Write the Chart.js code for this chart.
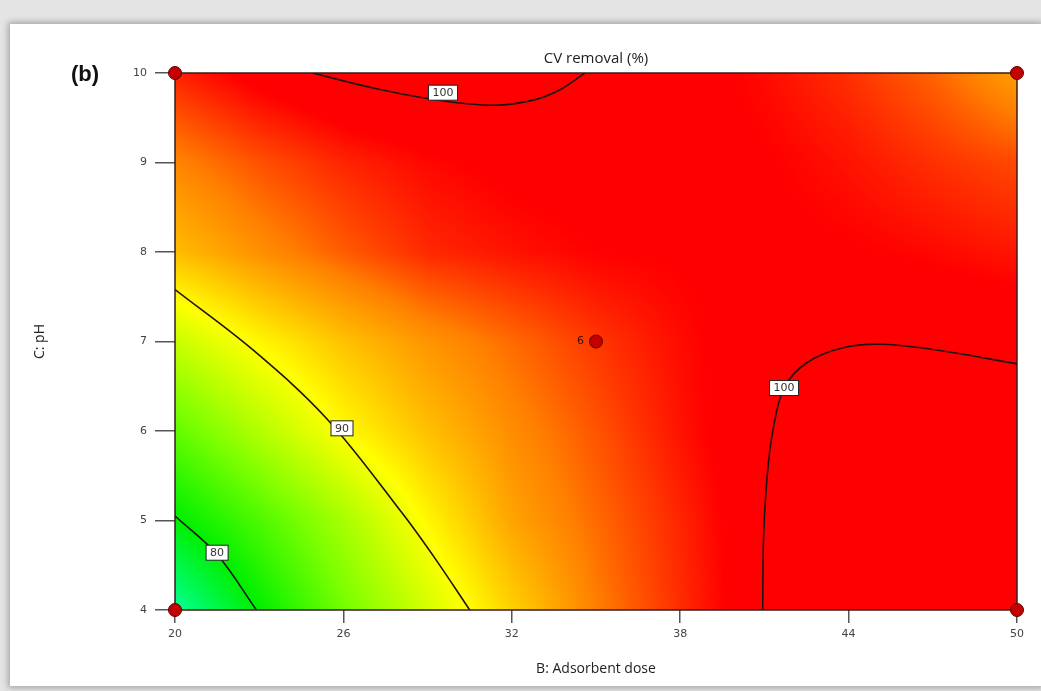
<!DOCTYPE html>
<html>
<head>
<meta charset="utf-8">
<script src="https://cdn.jsdelivr.net/npm/chart.js@4.4.1/dist/chart.umd.min.js"></script>
<style>
    body { margin: 0; background: #e4e4e4; width: 1041px; height: 691px; overflow: hidden; position: relative; }
    #card { position: absolute; left: 10px; top: 24px; width: 1031px; height: 662px; background: #fff;
            box-shadow: 0 0 6px 2px rgba(0,0,0,0.28); }
    #chart { position: absolute; left: 0; top: 0; }
</style>
</head>
<body>
<div id="card"></div>
<canvas id="chart" width="1041" height="691"></canvas>
<script>
// grid of the response surface
const doseGrid = [20, 23, 26, 29, 32, 35, 38, 41, 44, 47, 50];
const phGrid = [4, 5, 6, 7, 8, 9, 10];
const removalPH4  = [75.0, 80.0, 84.5, 88.3, 91.8, 95.0, 97.3, 99.5, 100.5, 101.0, 101.0];
const removalPH5  = [79.8, 83.0, 86.5, 90.3, 93.6, 95.6, 97.5, 99.5, 100.3, 100.5, 100.3];
const removalPH6  = [83.8, 87.0, 90.1, 92.5, 94.5, 96.2, 98.0, 99.5, 100.2, 100.3, 100.1];
const removalPH7  = [87.8, 90.3, 92.4, 94.2, 95.6, 97.0, 98.2, 99.2, 99.6, 99.6, 99.5];
const removalPH8  = [92.6, 94.4, 96.0, 97.4, 98.0, 98.5, 98.6, 98.7, 98.6, 98.3, 97.9];
const removalPH9  = [94.8, 96.3, 97.5, 98.3, 98.8, 99.0, 98.9, 98.6, 98.0, 97.2, 96.5];
const removalPH10 = [97.6, 99.0, 100.0, 100.5, 100.3, 99.8, 99.1, 98.2, 97.2, 95.8, 93.8];
const removalRows = [removalPH4, removalPH5, removalPH6, removalPH7, removalPH8, removalPH9, removalPH10];

// contour lines
const contour80 = [{x: 20, y: 5.05}, {x: 21.5, y: 4.62}, {x: 22.9, y: 4}];
const contour90 = [{x: 20, y: 7.58}, {x: 22.8, y: 6.9}, {x: 25.4, y: 6.14},
    {x: 28.1, y: 5.08}, {x: 29.3, y: 4.56}, {x: 30.5, y: 4}];
const contour100Top = [{x: 24.9, y: 10}, {x: 27.1, y: 9.83}, {x: 29.5, y: 9.69}, {x: 31.4, y: 9.64},
    {x: 32.8, y: 9.7}, {x: 33.7, y: 9.81}, {x: 34.6, y: 10}];
const contour100Right = [{x: 40.94, y: 4}, {x: 40.97, y: 4.8}, {x: 41.1, y: 5.5}, {x: 41.3, y: 6.0},
    {x: 41.7, y: 6.48}, {x: 42.5, y: 6.76}, {x: 43.8, y: 6.93}, {x: 45.2, y: 6.97},
    {x: 47.25, y: 6.9}, {x: 50, y: 6.75}];
const contourLabels = [
    {x: 21.5, y: 4.64, text: '80'},
    {x: 25.95, y: 6.03, text: '90'},
    {x: 29.55, y: 9.78, text: '100'},
    {x: 41.7, y: 6.48, text: '100'}
];

// design points
const designPoints = [{x: 20, y: 10}, {x: 50, y: 10}, {x: 20, y: 4}, {x: 50, y: 4}, {x: 35, y: 7}];
const centerLabel = {x: 35, y: 7, text: '6'};

const xTicks = [20, 26, 32, 38, 44, 50];
const yTicks = [4, 5, 6, 7, 8, 9, 10];

const colourStops = [
    {v: 75, c: [0, 255, 150]},
    {v: 80, c: [0, 240, 0]},
    {v: 85, c: [128, 255, 0]},
    {v: 90, c: [255, 255, 0]},
    {v: 95, c: [255, 128, 0]},
    {v: 98.5, c: [255, 0, 0]}
];

function colourFor(v) {
    if (v <= colourStops[0].v) return colourStops[0].c;
    for (let k = 1; k < colourStops.length; k++) {
        const a = colourStops[k - 1], b = colourStops[k];
        if (v <= b.v) {
            const t = (v - a.v) / (b.v - a.v);
            return [a.c[0] + (b.c[0] - a.c[0]) * t, a.c[1] + (b.c[1] - a.c[1]) * t, a.c[2] + (b.c[2] - a.c[2]) * t];
        }
    }
    return colourStops[colourStops.length - 1].c;
}

function cellIndex(arr, v) {
    let i = 0;
    while (i < arr.length - 2 && v > arr[i + 1]) i++;
    return i;
}

function sample(dose, ph) {
    const i = cellIndex(doseGrid, dose), j = cellIndex(phGrid, ph);
    const tx = Math.min(1, Math.max(0, (dose - doseGrid[i]) / (doseGrid[i + 1] - doseGrid[i])));
    const ty = Math.min(1, Math.max(0, (ph - phGrid[j]) / (phGrid[j + 1] - phGrid[j])));
    const r0 = removalRows[j], r1 = removalRows[j + 1];
    const a = r0[i] + (r0[i + 1] - r0[i]) * tx;
    const b = r1[i] + (r1[i + 1] - r1[i]) * tx;
    return a + (b - a) * ty;
}

const heatmapPlugin = {
    id: 'heatmap',
    beforeDatasetsDraw(chart) {
        const {ctx, chartArea: a, scales: {x, y}} = chart;
        const w = Math.round(a.right - a.left), h = Math.round(a.bottom - a.top);
        const off = document.createElement('canvas');
        off.width = w; off.height = h;
        const octx = off.getContext('2d');
        const img = octx.createImageData(w, h);
        for (let j = 0; j < h; j++) {
            const ph = y.getValueForPixel(a.top + j + 0.5);
            for (let i = 0; i < w; i++) {
                const dose = x.getValueForPixel(a.left + i + 0.5);
                const c = colourFor(sample(dose, ph));
                const p = (j * w + i) * 4;
                img.data[p] = c[0]; img.data[p + 1] = c[1]; img.data[p + 2] = c[2]; img.data[p + 3] = 255;
            }
        }
        octx.putImageData(img, 0, 0);
        ctx.drawImage(off, a.left, a.top);
        ctx.save();
        ctx.strokeStyle = '#3a1c1c';
        ctx.lineWidth = 1.5;
        ctx.strokeRect(a.left, a.top, a.right - a.left, a.bottom - a.top);
        ctx.restore();
    },
    afterDatasetsDraw(chart) {
        const {ctx, scales: {x, y}} = chart;
        ctx.save();
        ctx.font = '11px "DejaVu Sans"';
        ctx.textAlign = 'center';
        ctx.textBaseline = 'middle';
        contourLabels.forEach(l => {
            const px = x.getPixelForValue(l.x), py = y.getPixelForValue(l.y);
            const w = ctx.measureText(l.text).width + 8, h = 15;
            ctx.fillStyle = '#fff';
            ctx.fillRect(px - w / 2, py - h / 2, w, h);
            ctx.strokeStyle = '#222';
            ctx.lineWidth = 1;
            ctx.strokeRect(px - w / 2, py - h / 2, w, h);
            ctx.fillStyle = '#333';
            ctx.fillText(l.text, px, py + 0.5);
        });
        ctx.fillStyle = '#3a1010';
        ctx.textAlign = 'right';
        ctx.fillText(centerLabel.text, x.getPixelForValue(centerLabel.x) - 12, y.getPixelForValue(centerLabel.y));
        ctx.restore();
    },
    afterDraw(chart) {
        const {ctx, chartArea: a} = chart;
        ctx.save();
        ctx.fillStyle = '#222';
        ctx.textAlign = 'center';
        ctx.textBaseline = 'middle';
        ctx.font = '15px "Open Sans"';
        ctx.fillText('CV removal (%)', (a.left + a.right) / 2, 59);
        ctx.fillStyle = '#111';
        ctx.font = 'bold 22px "Liberation Sans"';
        ctx.fillText('(b)', 85, 75);
        ctx.restore();
    }
};

function contourSet(points) {
    return {
        type: 'line',
        data: points,
        borderColor: '#1e1414',
        borderWidth: 1.6,
        pointRadius: 0,
        tension: 0.35,
        fill: false
    };
}

const tickFont = {family: 'DejaVu Sans', size: 11};
const titleFont = {family: 'Open Sans', size: 14};

new Chart(document.getElementById('chart'), {
    type: 'scatter',
    data: {
        datasets: [
            {
                data: designPoints,
                backgroundColor: '#c40000',
                borderColor: '#5a0000',
                borderWidth: 1,
                pointRadius: 6.5,
                clip: false
            },
            contourSet(contour80),
            contourSet(contour90),
            contourSet(contour100Top),
            contourSet(contour100Right)
        ]
    },
    options: {
        responsive: false,
        animation: false,
        layout: {padding: {left: 28, top: 73, right: 24, bottom: 10}},
        plugins: {legend: {display: false}, tooltip: {enabled: false}, title: {display: false}},
        scales: {
            x: {
                type: 'linear', min: 20, max: 50,
                afterBuildTicks(s) { s.ticks = xTicks.map(v => ({value: v})); },
                ticks: {color: '#444', font: tickFont, padding: 5},
                grid: {drawOnChartArea: false, tickLength: 13, color: '#555', lineWidth: 1.5},
                border: {display: false},
                title: {display: true, text: 'B: Adsorbent dose', color: '#222', font: titleFont, padding: {top: 4, bottom: 4}},
                afterFit(s) { s.height = 71; }
            },
            y: {
                type: 'linear', min: 4, max: 10,
                afterBuildTicks(s) { s.ticks = yTicks.map(v => ({value: v})); },
                ticks: {color: '#444', font: tickFont, padding: 8},
                grid: {drawOnChartArea: false, tickLength: 20, color: '#555', lineWidth: 1.5},
                border: {display: false},
                title: {display: true, text: 'C: pH', color: '#222', font: titleFont, padding: {top: 4, bottom: 4}},
                afterFit(s) { s.width = 147; }
            }
        }
    },
    plugins: [heatmapPlugin]
});
</script>
</body>
</html>
